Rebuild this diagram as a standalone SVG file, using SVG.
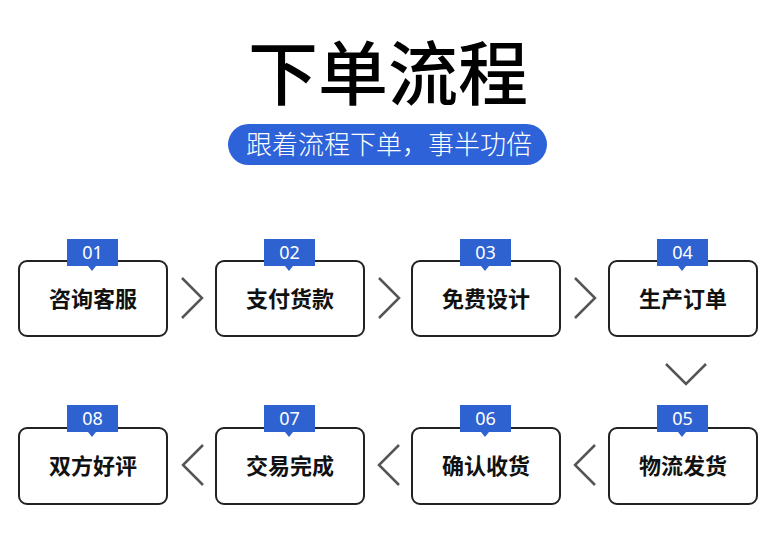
<svg xmlns="http://www.w3.org/2000/svg" width="782" height="540" viewBox="0 0 782 540">
<defs>
<style>
.box{fill:#fff;stroke:#222;stroke-width:2}
.badge{fill:#2e62d0}
.num{fill:#fff;font-family:"Noto Sans","Open Sans",sans-serif;font-size:18px;text-anchor:middle}
.lbl{fill:#111;font-family:"Noto Sans CJK SC",sans-serif;font-size:22px;font-weight:bold;text-anchor:middle}
.chev{fill:none;stroke:#555;stroke-width:2.5}
</style>
</defs>
<rect width="782" height="540" fill="#fff"/>
<g id="title">
<text x="388" y="100" font-family="Noto Sans CJK SC,sans-serif" font-size="70" font-weight="500" text-anchor="middle" fill="#000">下单流程</text>
</g>
<g id="subtitle">
<rect x="228" y="124" width="319" height="41" rx="20.5" fill="#2e62d8"/>
<text x="389" y="154" font-family="Noto Sans CJK SC,sans-serif" font-size="26" font-weight="300" text-anchor="middle" fill="#fff">跟着流程下单，事半功倍</text>
</g>
<g id="connectors">
<path class="chev" d="M182 278l20 20-20 20"/>
<path class="chev" d="M379 278l20 20-20 20"/>
<path class="chev" d="M575 278l20 20-20 20"/>
<path class="chev" d="M666 364l20 20 20-20"/>
<path class="chev" d="M203 445l-20 20 20 20"/>
<path class="chev" d="M399 445l-20 20 20 20"/>
<path class="chev" d="M595 445l-20 20 20 20"/>
</g>
<g id="node1">
<rect class="box" x="19" y="261" width="148" height="75" rx="8"/>
<path class="badge" d="M67 239h51v27h-22l-4 5-4-5h-21z"/>
<text class="num" x="92.500" y="259">01</text>
<text class="lbl" x="93" y="307">咨询客服</text>
</g>
<g id="node2">
<rect class="box" x="216" y="261" width="148" height="75" rx="8"/>
<path class="badge" d="M264 239h51v27h-22l-4 5-4-5h-21z"/>
<text class="num" x="289.500" y="259">02</text>
<text class="lbl" x="290" y="307">支付货款</text>
</g>
<g id="node3">
<rect class="box" x="412" y="261" width="148" height="75" rx="8"/>
<path class="badge" d="M460 239h51v27h-22l-4 5-4-5h-21z"/>
<text class="num" x="485.500" y="259">03</text>
<text class="lbl" x="486" y="307">免费设计</text>
</g>
<g id="node4">
<rect class="box" x="609" y="261" width="148" height="75" rx="8"/>
<path class="badge" d="M657 239h51v27h-22l-4 5-4-5h-21z"/>
<text class="num" x="682.500" y="259">04</text>
<text class="lbl" x="683" y="307">生产订单</text>
</g>
<g id="node5">
<rect class="box" x="609" y="428" width="148" height="76" rx="8"/>
<path class="badge" d="M657 405h51v27h-22l-4 5-4-5h-21z"/>
<text class="num" x="682.500" y="425">05</text>
<text class="lbl" x="683" y="474">物流发货</text>
</g>
<g id="node6">
<rect class="box" x="412" y="428" width="148" height="76" rx="8"/>
<path class="badge" d="M460 405h51v27h-22l-4 5-4-5h-21z"/>
<text class="num" x="485.500" y="425">06</text>
<text class="lbl" x="486" y="474">确认收货</text>
</g>
<g id="node7">
<rect class="box" x="216" y="428" width="148" height="76" rx="8"/>
<path class="badge" d="M264 405h51v27h-22l-4 5-4-5h-21z"/>
<text class="num" x="289.500" y="425">07</text>
<text class="lbl" x="290" y="474">交易完成</text>
</g>
<g id="node8">
<rect class="box" x="19" y="428" width="148" height="76" rx="8"/>
<path class="badge" d="M67 405h51v27h-22l-4 5-4-5h-21z"/>
<text class="num" x="92.500" y="425">08</text>
<text class="lbl" x="93" y="474">双方好评</text>
</g>
</svg>
